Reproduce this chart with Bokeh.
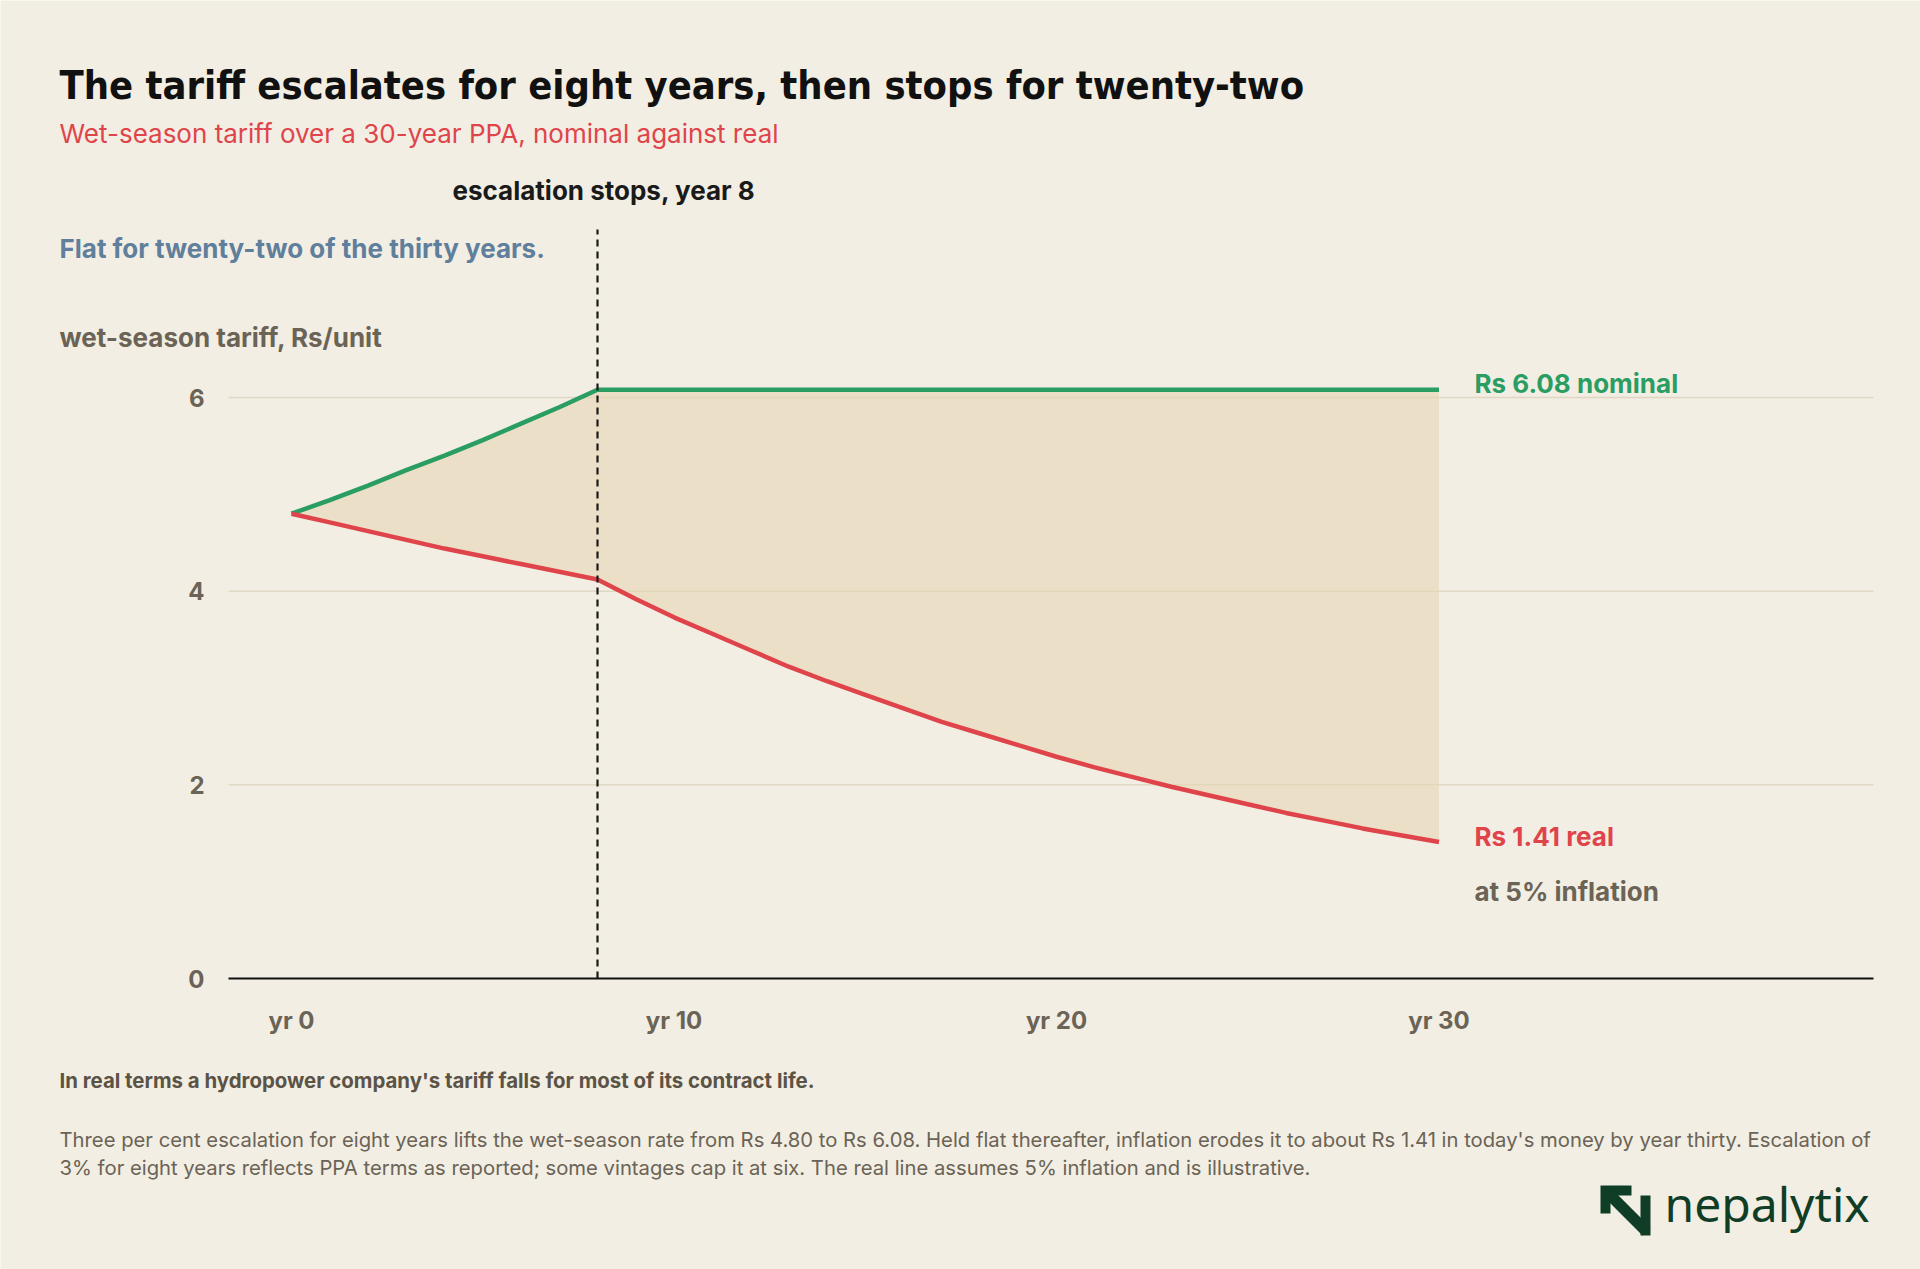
from bokeh.plotting import figure
from bokeh.models import FixedTicker
from bokeh.core.properties import value
from bokeh.embed import file_html
from bokeh.resources import INLINE

# wet-season tariff, Rs/unit, by contract year
years = [0, 1, 2, 3, 4, 5, 6, 7, 8, 9, 10, 11, 12, 13, 14, 15,
         16, 17, 18, 19, 20, 21, 22, 23, 24, 25, 26, 27, 28, 29, 30]
nominal = [4.80, 4.94, 5.09, 5.25, 5.40, 5.56, 5.73, 5.90, 6.08, 6.08, 6.08,
           6.08, 6.08, 6.08, 6.08, 6.08, 6.08, 6.08, 6.08, 6.08, 6.08, 6.08,
           6.08, 6.08, 6.08, 6.08, 6.08, 6.08, 6.08, 6.08, 6.08]
real = [4.80, 4.71, 4.62, 4.53, 4.44, 4.36, 4.28, 4.20, 4.12, 3.92, 3.73,
        3.56, 3.39, 3.22, 3.07, 2.93, 2.79, 2.65, 2.53, 2.41, 2.29, 2.18,
        2.08, 1.98, 1.89, 1.80, 1.71, 1.63, 1.55, 1.48, 1.41]
stop_year = 8
x_ticks = [0, 10, 20, 30]
x_tick_labels = ["yr 0", "yr 10", "yr 20", "yr 30"]
y_ticks = [0, 2, 4, 6]
grid_ys = [2, 4, 6]

BG = "#f2eee3"
GREEN = "#2a9d63"
RED = "#e0444b"
GREY = "#6b6355"
BODY = "Inter"
TITLE_FONT = "'Liberation Sans Narrow', 'DejaVu Sans Condensed', sans-serif"

W, H = 1920, 1269
AXIS_Y = 978           # pixel row of y = 0
TOP_Y = 229            # top of the plotting area
LEFT_X, RIGHT_X = 228, 1873
X0_PX, PX_PER_YR = 291, 38.25
PX_PER_UNIT = 96.83


def X(px):
    return (px - X0_PX) / PX_PER_YR


def Y(px):
    return (AXIS_Y - px) / PX_PER_UNIT


p = figure(width=W, height=H, x_range=(X(0), X(W)), y_range=(Y(H), Y(0)),
           min_border=0, toolbar_location=None, output_backend="svg")
p.background_fill_color = BG
p.border_fill_color = BG
p.outline_line_color = None
p.yaxis.visible = False
p.grid.visible = False

p.xaxis.fixed_location = 0
p.xaxis.ticker = FixedTicker(ticks=x_ticks)
p.xaxis.major_label_overrides = dict(zip(x_ticks, x_tick_labels))
p.xaxis.bounds = (X(LEFT_X), X(RIGHT_X))
p.xaxis.axis_line_color = "#111111"
p.xaxis.axis_line_width = 2
p.xaxis.major_tick_line_color = None
p.xaxis.minor_tick_line_color = None
p.xaxis.major_label_standoff = 21
p.xaxis.major_label_text_font = BODY
p.xaxis.major_label_text_font_style = "bold"
p.xaxis.major_label_text_font_size = "24px"
p.xaxis.major_label_text_color = GREY

# gridlines and y tick labels
p.segment(x0=X(LEFT_X), x1=X(RIGHT_X), y0=grid_ys, y1=grid_ys,
          line_color="#e0d7c3", line_width=1.5)
p.text(x=X(204), y=y_ticks, text=[str(t) for t in y_ticks], text_align="right",
       text_baseline="middle", text_font=value(BODY), text_font_style="bold",
       text_font_size="24px", text_color=GREY)

# gap between nominal and real
p.varea(x=years, y1=real, y2=nominal, fill_color="#e6d6b0", fill_alpha=0.55)
p.line(years, nominal, line_color=GREEN, line_width=4.5)
p.line(years, real, line_color=RED, line_width=4.5)
p.segment(x0=stop_year, x1=stop_year, y0=0, y1=Y(TOP_Y), line_color="#1a1a1a",
          line_width=2.2, line_dash="7 5")


def lab(text, px, base, size, color, style="bold", font=BODY):
    # base is the pixel row of the text baseline
    p.text(x=X(px), y=Y(base - 0.4 * size), text=[text], text_font=value(font),
           text_font_size=f"{size}px", text_font_style=style,
           text_color=color, text_baseline="alphabetic", text_align="left")


lab("The tariff escalates for eight years, then stops for twenty-two",
    59, 100, 39.5, "#111111", font=TITLE_FONT)
lab("Wet-season tariff over a 30-year PPA, nominal against real",
    59, 143, 26, RED, style="normal")
lab("escalation stops, year 8", 452, 200, 26, "#1a1a1a")
lab("Flat for twenty-two of the thirty years.", 59, 258, 26, "#5f7f9c")
lab("wet-season tariff, Rs/unit", 59, 347, 26, GREY)
lab("Rs 6.08 nominal", 1474, 393, 26, GREEN)
lab("Rs 1.41 real", 1474, 846, 26, RED)
lab("at 5% inflation", 1474, 901, 26, GREY)

# footer
lab("In real terms a hydropower company's tariff falls for most of its contract life.",
    59, 1088, 20.4, "#5a5346")
lab("Three per cent escalation for eight years lifts the wet-season rate from Rs 4.80 to "
    "Rs 6.08. Held flat thereafter, inflation erodes it to about Rs 1.41 in today's money "
    "by year thirty. Escalation of", 59, 1147, 20.25, GREY, style="normal")
lab("3% for eight years reflects PPA terms as reported; some vintages cap it at six. "
    "The real line assumes 5% inflation and is illustrative.",
    59, 1175, 20.25, GREY, style="normal")

# logo
LOGO = "#0f3d26"
lx, ly = 1600, 1185
shapes = [[(0, 0), (31, 0), (31, 10), (10, 10), (10, 28), (0, 28)],
          [(4, 12), (12, 4), (50, 42), (42, 50)],
          [(40, 10), (50, 10), (50, 50), (40, 50)]]
p.patches(xs=[[X(lx + a) for a, b in sh] for sh in shapes],
          ys=[[Y(ly + b) for a, b in sh] for sh in shapes],
          fill_color=LOGO, line_color=None)
lab("nepalytix", 1664, 1222, 48, LOGO, style="normal", font="Noto Sans")

open("out.html", "w").write(file_html(p, INLINE))
